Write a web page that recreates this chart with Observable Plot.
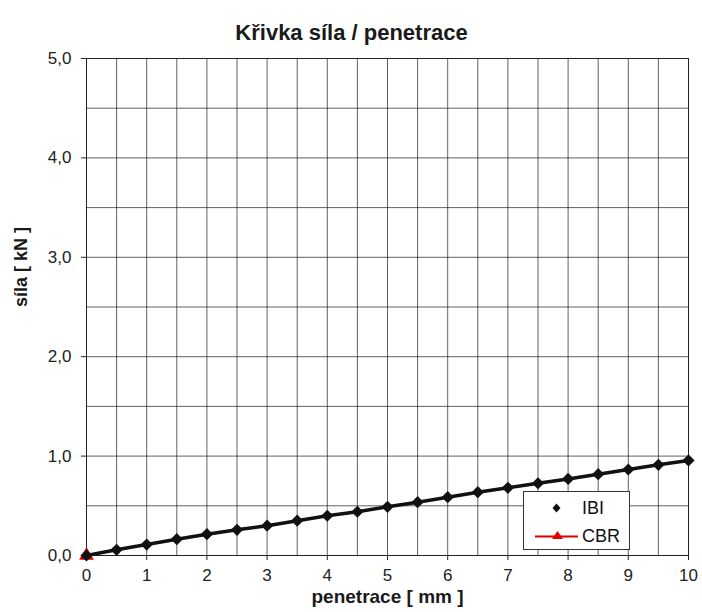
<!DOCTYPE html>
<html>
<head>
<meta charset="utf-8">
<script src="https://cdn.jsdelivr.net/npm/d3@7"></script>
<script src="https://cdn.jsdelivr.net/npm/@observablehq/plot@0.6"></script>
<style>
  html, body { margin: 0; padding: 0; background: #fff; }
  #wrap { position: relative; width: 702px; height: 612px; font-family: "Liberation Sans", Arial, sans-serif; }
  #legend { position: absolute; left: 523px; top: 491px; width: 107px; height: 59px; background: #fff; border: 1px solid #333; box-sizing: border-box; font-size: 18px; color: #111; }
  #legend .row { position: absolute; left: 0; height: 20px; display: flex; align-items: center; }
</style>
</head>
<body>
<div id="wrap"></div>
<script>
const title = "Křivka síla / penetrace";
const xLabel = "penetrace [ mm ]";
const yLabel = "síla [ kN ]";
const penetration = [0, 0.5, 1, 1.5, 2, 2.5, 3, 3.5, 4, 4.5, 5, 5.5, 6, 6.5, 7, 7.5, 8, 8.5, 9, 9.5, 10];
const ibi = [0.00, 0.057, 0.11, 0.164, 0.214, 0.258, 0.30, 0.35, 0.40, 0.44, 0.49, 0.536, 0.587, 0.637, 0.681, 0.727, 0.77, 0.818, 0.865, 0.912, 0.956];
const cbrX = [0];
const cbrY = [0];
const xTicks = [0, 1, 2, 3, 4, 5, 6, 7, 8, 9, 10];
const yTicks = [0, 1, 2, 3, 4, 5];
const gridX = d3.range(0, 10.01, 0.5);
const gridY = d3.range(0, 5.01, 0.5);

const ibiData = penetration.map((x, i) => ({x, y: ibi[i]}));
const cbrData = cbrX.map((x, i) => ({x, y: cbrY[i]}));
const fmt = d => d3.format(".1f")(d).replace(".", ",");

const chart = Plot.plot({
  width: 702,
  height: 612,
  marginLeft: 86,
  marginRight: 14,
  marginTop: 58,
  marginBottom: 57,
  style: {fontFamily: "'Liberation Sans', Arial, sans-serif", fontSize: "17px", color: "#222", background: "#fff"},
  x: {domain: [0, 10]},
  y: {domain: [0, 5]},
  marks: [
    Plot.ruleX(gridX, {stroke: "#000", strokeOpacity: 0.62, strokeWidth: 1}),
    Plot.ruleY(gridY, {stroke: "#000", strokeOpacity: 0.62, strokeWidth: 1}),
    Plot.frame({stroke: "#222", strokeWidth: 1}),
    Plot.axisX({ticks: xTicks, tickFormat: d => String(d), tickSize: 5, tickPadding: 8, fontSize: 17, label: null, fill: "#222"}),
    Plot.axisY({ticks: yTicks, tickFormat: fmt, tickSize: 5, tickPadding: 10, fontSize: 17, label: null, fill: "#222"}),
    Plot.line(cbrData, {x: "x", y: "y", stroke: "#e00000", strokeWidth: 2}),
    Plot.dot(cbrData, {x: "x", y: "y", symbol: "triangle", fill: "#e00000", r: 5.5}),
    Plot.line(ibiData, {x: "x", y: "y", stroke: "#111", strokeWidth: 3.5}),
    Plot.dot(ibiData, {x: "x", y: "y", symbol: "diamond2", fill: "#111", r: 5.5}),
    Plot.text([title], {frameAnchor: "top", dx: -36, dy: -34, fontSize: 22, fontWeight: "bold", fill: "#1a1a1a"}),
    Plot.text([xLabel], {frameAnchor: "bottom", dy: 47, fontSize: 19, fontWeight: "bold", fill: "#1a1a1a"}),
    Plot.text([yLabel], {frameAnchor: "left", dx: -65, rotate: -90, fontSize: 18, fontWeight: "bold", fill: "#1a1a1a"})
  ]
});
const wrap = document.getElementById("wrap");
wrap.appendChild(chart);

const legend = document.createElement("div");
legend.id = "legend";
legend.innerHTML = `
  <div class="row" style="top:6px;">
    <svg width="58" height="20"><path d="M32.5,5.5 L36.5,10 L32.5,14.5 L28.5,10 Z" fill="#111"/></svg>
    <span>IBI</span>
  </div>
  <div class="row" style="top:34px;">
    <svg width="58" height="20"><line x1="11" y1="10.5" x2="54" y2="10.5" stroke="#e00000" stroke-width="2"/><path d="M33.5,5 L39,13 L28,13 Z" fill="#e00000"/></svg>
    <span>CBR</span>
  </div>`;
wrap.appendChild(legend);
</script>
</body>
</html>
